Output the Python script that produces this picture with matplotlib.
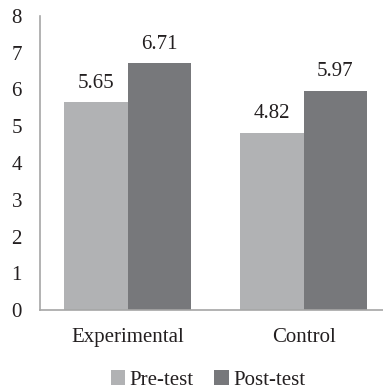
import numpy as np
import matplotlib
matplotlib.use('Agg')
import matplotlib.pyplot as plt

# 数据
groups = ['Experimental', 'Control']
pre_test = [5.65, 4.82]
post_test = [6.71, 5.97]
series_names = ['Pre-test', 'Post-test']
y_ticks = [0, 1, 2, 3, 4, 5, 6, 7, 8]

plt.rcParams['font.family'] = ['Liberation Serif', 'DejaVu Serif']
text_color = '#231f20'
colors = ['#b1b2b4', '#77787b']

fig = plt.figure(figsize=(3.83, 3.91), dpi=100)
ax = fig.add_axes([40 / 383, 81 / 391, 343 / 383, 294 / 391])

x = np.arange(len(groups))
width = 0.362
unit_px = 175.75
bars_pre = ax.bar(x - width / 2, pre_test, width, color=colors[0], label=series_names[0])
bars_post = ax.bar(x + width / 2, post_test, width, color=colors[1], label=series_names[1])

for bars in (bars_pre, bars_post):
    ax.bar_label(bars, labels=[f'{v:.2f}' for v in bars.datavalues],
                 padding=7, fontsize=15, color=text_color)

ax.set_xlim(-0.5, -0.5 + 343 / unit_px)
ax.set_ylim(0, 8)
ax.set_yticks(y_ticks)
ax.set_xticks(x)
ax.set_xticklabels(groups)
ax.tick_params(axis='both', length=0, labelsize=15, labelcolor=text_color)
ax.tick_params(axis='y', pad=13)
ax.tick_params(axis='x', pad=13)

for side in ['top', 'right']:
    ax.spines[side].set_visible(False)
for side in ['left', 'bottom']:
    ax.spines[side].set_color('#a6a6a6')
    ax.spines[side].set_linewidth(1.2)

fig.legend(loc='center', bbox_to_anchor=(208 / 383, 1 - 380 / 391), ncol=2,
           frameon=False, fontsize=15, handlelength=0.7, handleheight=0.7,
           handletextpad=0.2, columnspacing=1.0, labelcolor=text_color)

fig.savefig('out.png', dpi=100)
